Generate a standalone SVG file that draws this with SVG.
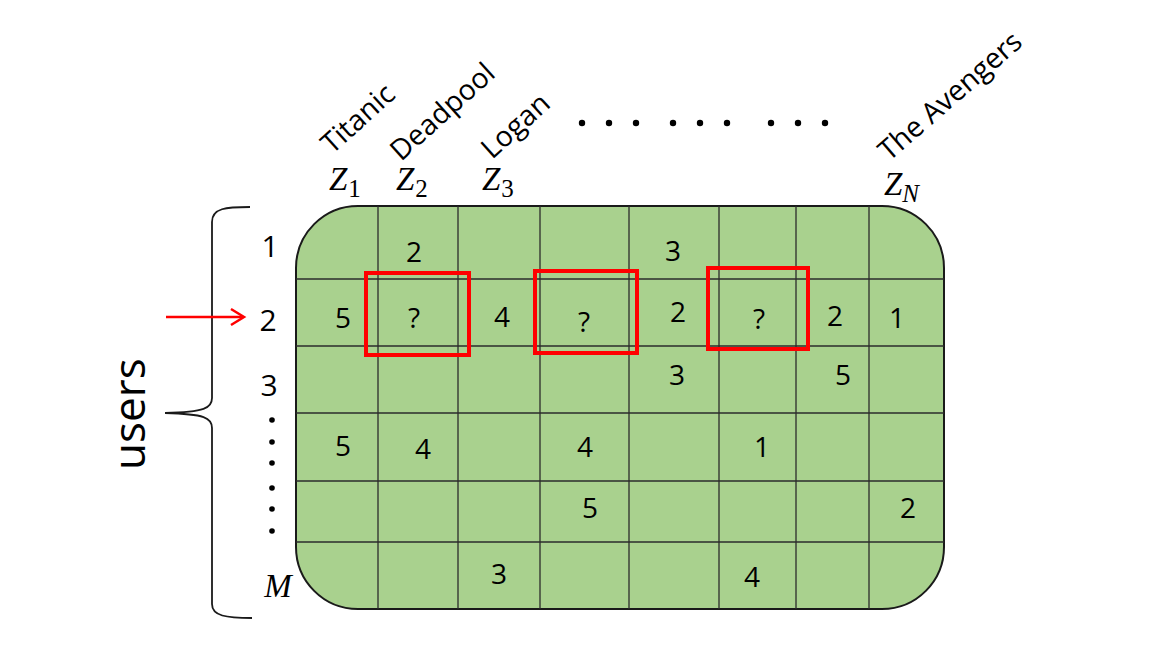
<svg xmlns="http://www.w3.org/2000/svg" width="1152" height="648" viewBox="0 0 1152 648">
<defs>
<style>
.num{font-family:"Open Sans","Noto Sans",sans-serif;font-size:28px;fill:#000;text-anchor:middle}
.lbl{font-size:30px}
.mov{font-family:"Open Sans","Noto Sans",sans-serif;font-size:28.5px;fill:#000}
.mz{font-family:"Liberation Serif",serif;font-style:italic;font-size:33px;fill:#000}
.sub{font-family:"Liberation Serif",serif;font-size:25px;fill:#000}
.grid{stroke:#2b2b2b;stroke-width:1.3;fill:none}
.sel{stroke:#FF0000;stroke-width:4;fill:none}
</style>
<clipPath id="mclip"><rect x="296" y="206" width="648" height="403" rx="62" ry="62"/></clipPath>
</defs>
<rect width="1152" height="648" fill="#ffffff"/>

<g id="matrix">
<rect x="296" y="206" width="648" height="403" rx="62" ry="62" fill="#A9D18E" stroke="#1a1a1a" stroke-width="2"/>
<g class="grid" clip-path="url(#mclip)">
<line x1="378" y1="206" x2="378" y2="609"/>
<line x1="458" y1="206" x2="458" y2="609"/>
<line x1="540" y1="206" x2="540" y2="609"/>
<line x1="629" y1="206" x2="629" y2="609"/>
<line x1="719" y1="206" x2="719" y2="609"/>
<line x1="796" y1="206" x2="796" y2="609"/>
<line x1="869" y1="206" x2="869" y2="609"/>
<line x1="296" y1="279" x2="944" y2="279"/>
<line x1="296" y1="346" x2="944" y2="346"/>
<line x1="296" y1="413" x2="944" y2="413"/>
<line x1="296" y1="481" x2="944" y2="481"/>
<line x1="296" y1="542" x2="944" y2="542"/>
</g>
</g>

<g id="ratings">
<text class="num" x="414" y="262">2</text>
<text class="num" x="673" y="261">3</text>
<text class="num" x="343" y="328">5</text>
<text class="num" x="414" y="328">?</text>
<text class="num" x="502" y="327">4</text>
<text class="num" x="584" y="332">?</text>
<text class="num" x="678" y="322">2</text>
<text class="num" x="759" y="329">?</text>
<text class="num" x="835" y="326">2</text>
<text class="num" x="897" y="328">1</text>
<text class="num" x="677" y="385">3</text>
<text class="num" x="843" y="385">5</text>
<text class="num" x="343" y="456">5</text>
<text class="num" x="423" y="459">4</text>
<text class="num" x="585" y="457">4</text>
<text class="num" x="762" y="457">1</text>
<text class="num" x="590" y="518">5</text>
<text class="num" x="908" y="518">2</text>
<text class="num" x="499" y="584">3</text>
<text class="num" x="752" y="587">4</text>
</g>

<g id="selections">
<rect class="sel" x="366" y="273" width="103" height="82"/>
<rect class="sel" x="535" y="271" width="102" height="82"/>
<rect class="sel" x="708" y="268" width="100" height="81"/>
</g>

<g id="movies">
<text class="mov" transform="translate(332,155) rotate(-42)">Titanic</text>
<text class="mov" transform="translate(401,162) rotate(-42)">Deadpool</text>
<text class="mov" transform="translate(492,160) rotate(-42)">Logan</text>
<text class="mov" transform="translate(889,162) rotate(-41)">The Avengers</text>
<text x="329" y="190"><tspan class="mz">Z</tspan><tspan class="sub" dx="1" dy="7">1</tspan></text>
<text x="396" y="190"><tspan class="mz">Z</tspan><tspan class="sub" dx="1" dy="7">2</tspan></text>
<text x="482" y="190"><tspan class="mz">Z</tspan><tspan class="sub" dx="1" dy="7">3</tspan></text>
<text x="884" y="195"><tspan class="mz">Z</tspan><tspan class="sub" style="font-style:italic" dx="0" dy="7">N</tspan></text>
<g fill="#000">
<circle cx="582" cy="123" r="3.2"/><circle cx="609" cy="123" r="3.2"/><circle cx="636" cy="123" r="3.2"/>
<circle cx="673" cy="123" r="3.2"/><circle cx="700" cy="123" r="3.2"/><circle cx="727" cy="123" r="3.2"/>
<circle cx="771" cy="123" r="3.2"/><circle cx="798" cy="123" r="3.2"/><circle cx="825" cy="123" r="3.2"/>
</g>
</g>

<g id="users">
<text class="num lbl" x="270" y="257">1</text>
<text class="num lbl" x="268" y="331">2</text>
<text class="num lbl" x="269" y="396">3</text>
<g fill="#000">
<circle cx="272" cy="420" r="2.8"/><circle cx="272" cy="442" r="2.8"/><circle cx="272" cy="463" r="2.8"/>
<circle cx="272" cy="488" r="2.8"/><circle cx="272" cy="509" r="2.8"/><circle cx="272" cy="531" r="2.8"/>
</g>
<text class="mz" x="278" y="597" text-anchor="middle">M</text>
<path d="M250 207 C226 207 212 208 212 222 L212 398 C212 408 205 412 165 413 C205 414 212 418 212 428 L212 604 C212 616 226 618 252 618" fill="none" stroke="#1a1a1a" stroke-width="1.8"/>
<text transform="translate(145,470) rotate(-90)" style="font-family:'Open Sans','Noto Sans',sans-serif;font-size:44px;fill:#000">users</text>
</g>

<g id="connectors">
<line x1="166" y1="317" x2="243" y2="317" stroke="#FF0000" stroke-width="2.5"/>
<polyline points="231,309 244,317 231,325" fill="none" stroke="#FF0000" stroke-width="2.5"/>
</g>
</svg>
